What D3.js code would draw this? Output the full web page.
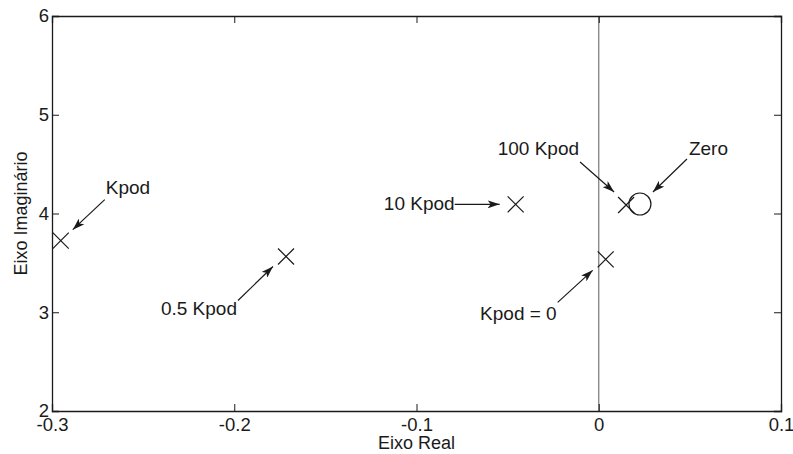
<!DOCTYPE html>
<html>
<head>
<meta charset="utf-8">
<script src="https://cdn.jsdelivr.net/npm/d3@7"></script>
<style>
  html, body { margin: 0; padding: 0; background: #fff; }
  text { font-family: "Liberation Sans", Arial, sans-serif; fill: #1a1a1a; }
</style>
</head>
<body>
<script>
// poles of the closed loop for each gain (real, imaginary)
const poleLabels = ['Kpod', '0.5 Kpod', '10 Kpod', '100 Kpod', 'Kpod = 0']
const poleRe = [-0.2952, -0.1716, -0.0456, 0.0150, 0.0038]
const poleIm = [3.725, 3.565, 4.093, 4.086, 3.536]

const zeroRe = [0.0226]
const zeroIm = [4.096]

const xTicks = [-0.3, -0.2, -0.1, 0, 0.1]
const xTickLabels = ['-0.3', '-0.2', '-0.1', '0', '0.1']
const yTicks = [2, 3, 4, 5, 6]

// annotation text placement, pixel offsets from the marker
const notes = [
  { text: 'Kpod', ref: 0, tx: 45, ty: -47, anchor: 'start', from: [44, -41], to: [12, -11] },
  { text: '0.5 Kpod', ref: 1, tx: -49, ty: 59, anchor: 'end', from: [-48, 44], to: [-13, 10] },
  { text: '10 Kpod', ref: 2, tx: -61, ty: 6, anchor: 'end', from: [-61, 0], to: [-16, 0] },
  { text: '100 Kpod', ref: 3, tx: -47, ty: -50, anchor: 'end', from: [-46, -43], to: [-12, -13] },
  { text: 'Kpod = 0', ref: 4, tx: -49, ty: 61, anchor: 'end', from: [-48, 43], to: [-13, 11] },
  { text: 'Zero', ref: 'z', tx: 49, ty: -49, anchor: 'start', from: [47, -45], to: [13, -12] }
]

function main ({ w, h, margin, fontSize }) {
  const svg = d3.select('body')
    .append('svg')
    .attr('width', w)
    .attr('height', h)

  const x = d3.scaleLinear().domain([-0.3, 0.1]).range([margin.left, w - margin.right])
  const y = d3.scaleLinear().domain([2, 6]).range([h - margin.bottom, margin.top])

  const defs = svg.append('defs')
  defs.append('marker')
    .attr('id', 'head')
    .attr('viewBox', '0 0 12 8')
    .attr('refX', 12)
    .attr('refY', 4)
    .attr('markerWidth', 12)
    .attr('markerHeight', 8)
    .attr('markerUnits', 'userSpaceOnUse')
    .attr('orient', 'auto')
    .append('path')
    .attr('d', 'M0,0 L12,4 L0,8 L3,4 Z')
    .attr('fill', '#1a1a1a')

  // the imaginary axis line
  svg.append('line')
    .attr('x1', x(0)).attr('x2', x(0))
    .attr('y1', y(2)).attr('y2', y(6))
    .attr('stroke', '#777')
    .attr('stroke-width', 1.2)

  const bottom = svg.append('g')
    .attr('transform', `translate(0,${y(2)})`)
    .call(d3.axisBottom(x).tickValues(xTicks).tickSize(-7).tickPadding(7)
      .tickFormat((d, i) => xTickLabels[i]))
  const top = svg.append('g')
    .attr('transform', `translate(0,${y(6)})`)
    .call(d3.axisTop(x).tickValues(xTicks).tickSize(-7).tickFormat(''))
  const left = svg.append('g')
    .attr('transform', `translate(${x(-0.3)},0)`)
    .call(d3.axisLeft(y).tickValues(yTicks).tickSize(-7).tickPadding(3).tickFormat(d3.format('d')))
  const right = svg.append('g')
    .attr('transform', `translate(${x(0.1)},0)`)
    .call(d3.axisRight(y).tickValues(yTicks).tickSize(-7).tickFormat(''))

  ;[bottom, top, left, right].forEach(g => {
    g.select('.domain').attr('stroke', '#1a1a1a').attr('stroke-width', 1.3)
    g.selectAll('.tick line').attr('stroke', '#1a1a1a')
    g.selectAll('text').attr('font-size', 18.5).attr('font-family', '"Liberation Sans", Arial, sans-serif').attr('fill', '#1a1a1a')
  })

  svg.append('text')
    .attr('x', (x(-0.3) + x(0.1)) / 2)
    .attr('y', h - 5)
    .attr('text-anchor', 'middle')
    .attr('font-size', 18)
    .text('Eixo Real')

  svg.append('text')
    .attr('transform', `translate(27,${(y(2) + y(6)) / 2}) rotate(-90)`)
    .attr('text-anchor', 'middle')
    .attr('font-size', 18)
    .text('Eixo Imaginário')

  const poles = poleRe.map((re, i) => ({ re, im: poleIm[i], label: poleLabels[i] }))
  const zeros = zeroRe.map((re, i) => ({ re, im: zeroIm[i] }))

  const s = 8
  svg.append('g')
    .selectAll('path')
    .data(poles)
    .join('path')
    .attr('d', d => {
      const cx = x(d.re)
      const cy = y(d.im)
      return `M${cx - s},${cy - s}L${cx + s},${cy + s}M${cx - s},${cy + s}L${cx + s},${cy - s}`
    })
    .attr('stroke', '#1a1a1a')
    .attr('stroke-width', 1.2)
    .attr('fill', 'none')

  svg.append('g')
    .selectAll('circle')
    .data(zeros)
    .join('circle')
    .attr('cx', d => x(d.re))
    .attr('cy', d => y(d.im))
    .attr('r', 11)
    .attr('fill', 'none')
    .attr('stroke', '#1a1a1a')
    .attr('stroke-width', 1.2)

  const anchorOf = n => {
    const d = n.ref === 'z' ? zeros[0] : poles[n.ref]
    return [x(d.re), y(d.im)]
  }

  const g = svg.append('g')
  notes.forEach(n => {
    const [cx, cy] = anchorOf(n)
    g.append('line')
      .attr('x1', cx + n.from[0]).attr('y1', cy + n.from[1])
      .attr('x2', cx + n.to[0]).attr('y2', cy + n.to[1])
      .attr('stroke', '#1a1a1a')
      .attr('stroke-width', 1.2)
      .attr('marker-end', 'url(#head)')
    g.append('text')
      .attr('x', cx + n.tx)
      .attr('y', cy + n.ty)
      .attr('text-anchor', n.anchor)
      .attr('font-size', fontSize)
      .text(n.text)
  })
}

main({
  w: 793,
  h: 454,
  margin: { top: 16, right: 12, bottom: 43, left: 52 },
  fontSize: 19
})
</script>
</body>
</html>
